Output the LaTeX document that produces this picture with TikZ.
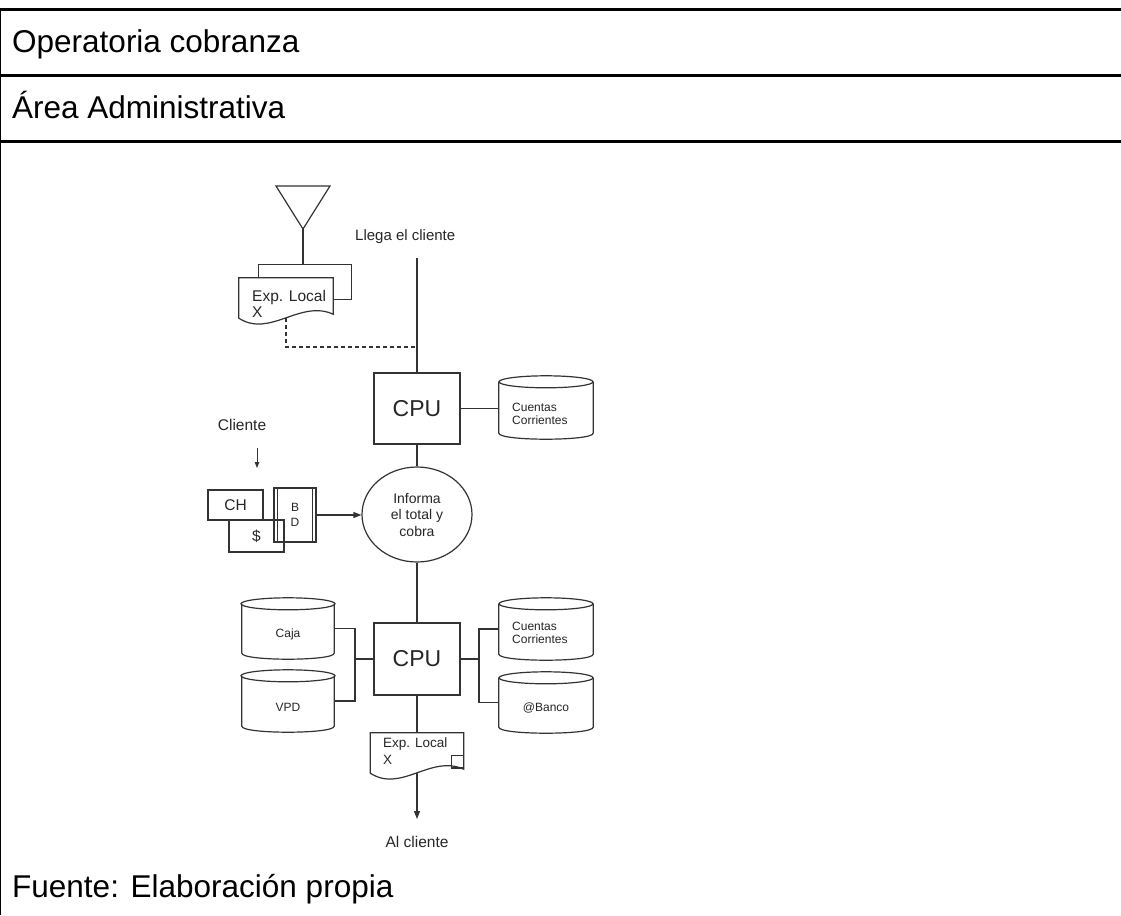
\documentclass[tikz,border=0pt]{standalone}
\usepackage{fontspec}
\setmainfont{Liberation Sans}
\usetikzlibrary{arrows.meta,calc,shapes.geometric}

\newcommand\fsz[2]{\fontsize{#1}{#2}\selectfont}

% cylinder outline drawn around an empty slot node
\newcommand\dbshape[1]{%
  \draw[ln, fill=white] ($(#1.north west)+(0,6)$) -- ($(#1.south west)+(0,-6)$)
    .. controls +(0,8) and +(0,8) .. ($(#1.south east)+(0,-6)$)
    -- ($(#1.north east)+(0,6)$);
  \draw[ln] ($(#1.north)+(0,6)$) ellipse [x radius=47pt, y radius=6pt];
}
% document outline with a wavy lower edge
\newcommand\docshape[1]{%
  \draw[ln, fill=white] (#1.north west) -- (#1.north east) -- ($(#1.south east)+(0,-4)$)
    .. controls +(-33,-15) and +(31,20) .. (#1.south west) -- cycle;
}

\tikzset{
  ln/.style={draw=black!80, line width=1.2pt},
  rule/.style={draw=black, line width=3pt},
  lbl/.style={inner sep=0pt, text=black!85},
  title/.style={inner sep=0pt, anchor=base west, font=\fsz{31.5}{38}},
  procbox/.style={ln, minimum width=86pt, minimum height=71pt, inner sep=0pt, font=\fsz{23}{28}, text=black!85},
  dbslot/.style={minimum width=94pt, minimum height=62pt, inner sep=0pt},
  docslot/.style={minimum width=94pt, minimum height=40pt, inner sep=0pt},
  plainbox/.style={ln, inner sep=0pt, font=\fsz{15.5}{18}, text=black!85},
  tip/.style={-{Triangle[length=8pt,width=6pt]}},
  smalltip/.style={-{Triangle[length=6pt,width=4.5pt]}},
}

\begin{document}
\begin{tikzpicture}[x=1pt, y=-1pt]
\useasboundingbox (0,0) rectangle (1121,915);

% ---- table frame ----
\draw[rule] (0,9.5) -- (1121,9.5);
\draw[rule] (0,75.5) -- (1121,75.5);
\draw[rule] (0,141.5) -- (1121,141.5);
\draw[draw=black, line width=1.4pt] (0.7,8) -- (0.7,915);

\node[title] (head) at (12,52.5) {Operatoria cobranza};
\node[title] (area) at (12,118.5) {Área Administrativa};
\node[title] (source) at (12,897) {Fuente: Elaboración propia};

% ---- file (merge triangle) and stacked documents ----
\draw[ln] (276,186) -- (330,186) -- (303,229) -- cycle;
\coordinate (merge) at (303,229);

\node[docslot, minimum width=92pt, minimum height=34pt] (docback) at (305,282) {};
\draw[ln, fill=white] (docback.north west) rectangle (docback.south east);
\node[docslot] (docA) at (286,298) {};
\docshape{docA}
\node[lbl, font=\fsz{15.5}{15.5}, anchor=base west, align=left] (docA-t) at (252,317) {Exp. Local\\X};
\draw[ln] (merge) -- (merge |- docback.north);

% ---- arrival of the customer ----
\node[lbl, font=\fsz{15}{18}, anchor=base west] (arrive-t) at (355,240.7) {Llega el cliente};
\coordinate (arrive) at (417,258);
\coordinate (join) at (417,347);

\node[procbox] (cpuA) at (417,408.5) {CPU};
\draw[ln] (arrive) -- (cpuA.north);
\draw[ln, dash pattern=on 4pt off 3pt] (docA.south) -- (docA.south |- join) -- (join);

\node[dbslot, minimum height=63pt] (ccA) at (546,407.5) {};
\dbshape{ccA}
\node[lbl, font=\fsz{12}{13.3}, align=left, anchor=base west] (ccA-t) at (512,424.3) {Cuentas\\Corrientes};
\draw[ln] (cpuA.east) -- (cpuA.east -| ccA.west);

% ---- payment handed in by the customer ----
\node[lbl, font=\fsz{15.5}{18}, anchor=base west] (client-t) at (217.7,430.7) {Cliente};
\coordinate (c1) at (257,448);
\coordinate (c2) at (257,468);
\draw[ln, line width=1pt, smalltip] (c1) -- (c2);

\node[plainbox, minimum width=55pt, minimum height=30pt] (ch) at (235.5,505) {CH};
\node[plainbox, minimum width=55pt, minimum height=32pt] (cash) at (256.5,536) {\$};
\node[plainbox, minimum width=42pt, minimum height=54pt, font=\fsz{12}{15}, align=center] (bd) at (295,515) {B\\D};
\draw[ln] ($(bd.north west)+(4,0)$) -- ($(bd.south west)+(4,0)$);
\draw[ln] ($(bd.north east)+(-4,0)$) -- ($(bd.south east)+(-4,0)$);

\node[ln, ellipse, minimum width=110pt, minimum height=95pt, inner sep=0pt,
      align=center, font=\fsz{14}{16.5}, text=black!85] (inform) at (417,514.5)
      {Informa\\el total y\\cobra};
\draw[ln, tip] (bd.east) -- (bd.east -| inform.west);
\draw[ln] (cpuA.south) -- (inform.north);

% ---- second processing step ----
\node[procbox, minimum height=72pt] (cpuB) at (417,659) {CPU};
\draw[ln] (inform.south) -- (cpuB.north);

\node[dbslot, minimum width=92pt, minimum height=61pt] (caja) at (288,628.5) {};
\dbshape{caja}
\node[lbl, font=\fsz{12}{14}] (caja-t) at (288,634) {Caja};
\node[dbslot, minimum width=92pt] (vpd) at (288,701) {};
\dbshape{vpd}
\node[lbl, font=\fsz{12}{14}] (vpd-t) at (288,707) {VPD};

\node[dbslot] (ccB) at (546,629) {};
\dbshape{ccB}
\node[lbl, font=\fsz{12}{13.3}, align=left, anchor=base west] (ccB-t) at (512,643.5) {Cuentas\\Corrientes};
\node[dbslot, minimum height=61pt] (bank) at (546,702.5) {};
\dbshape{bank}
\node[lbl, font=\fsz{12}{14}] (bank-t) at (546,707.5) {@Banco};

\coordinate (busL) at (355,659);
\coordinate (busR) at (479,659);
\draw[ln] (caja.east) -- (caja.east -| busL) -- (vpd.east -| busL) -- (vpd.east);
\draw[ln] (busL) -- (cpuB.west);
\draw[ln] (ccB.west) -- (ccB.west -| busR) -- (bank.west -| busR) -- (bank.west);
\draw[ln] (busR) -- (cpuB.east);

% ---- receipt handed back ----
\node[docslot, minimum width=93pt] (docB) at (417,753) {};
\docshape{docB}
\draw[ln] ($(docB.south east)+(-12,-18)$) rectangle ($(docB.south east)+(0,-5)$);
\draw[draw=black!80, line width=2pt] ($(docB.south east)+(-12,-5)$) -- ($(docB.south east)+(0,-5)$);
\node[lbl, font=\fsz{13.5}{16.7}, anchor=base west, align=left] (docB-t) at (383,764) {Exp. Local\\X};
\draw[ln] (cpuB.south) -- (docB.north);

\coordinate (out) at (417,819);
\draw[ln, tip] (docB.south) -- (out);
\node[lbl, font=\fsz{15.5}{18}, anchor=base] (out-t) at (417,847.3) {Al cliente};
\end{tikzpicture}
\end{document}
